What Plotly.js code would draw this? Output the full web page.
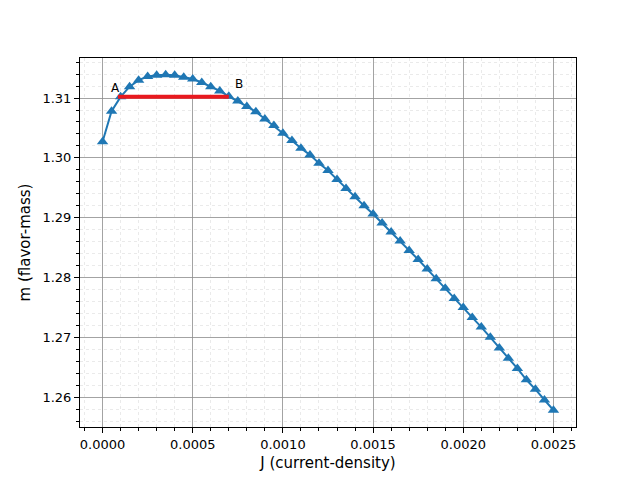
<!DOCTYPE html>
<html>
<head>
<meta charset="utf-8">
<script src="https://cdn.plot.ly/plotly-3.0.1.min.js"></script>
<style>html,body{margin:0;padding:0;background:#fff;}#chart{width:640px;height:480px;}</style>
</head>
<body>
<div id="chart"></div>
<script>
// current density J
const J = [0, 0.00005, 0.0001, 0.00015, 0.0002, 0.00025, 0.0003, 0.00035, 0.0004, 0.00045,
  0.0005, 0.00055, 0.0006, 0.00065, 0.0007, 0.00075, 0.0008, 0.00085, 0.0009, 0.00095,
  0.001, 0.00105, 0.0011, 0.00115, 0.0012, 0.00125, 0.0013, 0.00135, 0.0014, 0.00145,
  0.0015, 0.00155, 0.0016, 0.00165, 0.0017, 0.00175, 0.0018, 0.00185, 0.0019, 0.00195,
  0.002, 0.00205, 0.0021, 0.00215, 0.0022, 0.00225, 0.0023, 0.00235, 0.0024, 0.00245, 0.0025];
// flavor mass m
const M = [1.3027, 1.3078, 1.3102, 1.3119, 1.3130, 1.3136, 1.3138, 1.3139, 1.3138, 1.3135,
  1.3132, 1.3126, 1.3119, 1.3112, 1.3103, 1.3095, 1.3086, 1.3077, 1.3065, 1.3054,
  1.3041, 1.3029, 1.3016, 1.3005, 1.2991, 1.2979, 1.2964, 1.2949, 1.2935, 1.2920,
  1.2906, 1.2891, 1.2876, 1.2861, 1.2845, 1.2830, 1.2814, 1.2798, 1.2782, 1.2765,
  1.2750, 1.2733, 1.2717, 1.2700, 1.2682, 1.2665, 1.2648, 1.2629, 1.2613, 1.2595, 1.2578];
// Maxwell-type construction segment A-B
const segJ = [0.000085, 0.0007];
const segM = [1.3102, 1.3102];
const labels = ["A", "B"];
const labelJ = [0.000036, 0.000722];
const labelM = [1.3101, 1.3109];

const traces = [
  {x: J, y: M, type: 'scatter', mode: 'lines+markers',
   line: {color: '#1f77b4', width: 2},
   marker: {symbol: 'triangle-up', size: 10, color: '#1f77b4'}},
  {x: segJ, y: segM, type: 'scatter', mode: 'lines',
   line: {color: '#e8191f', width: 4}}
];

const font = {family: 'DejaVu Sans, sans-serif', color: '#000'};
const axisBase = {
  showline: true, linecolor: '#000', linewidth: 1, mirror: true,
  ticks: 'outside', ticklen: 5, tickwidth: 1, tickcolor: '#000',
  showgrid: true, gridcolor: '#8c8c8c', gridwidth: 0.8,
  zeroline: false,
  tickfont: {family: font.family, size: 13, color: '#000'}
};

const layout = {
  width: 640, height: 480,
  paper_bgcolor: '#fff', plot_bgcolor: '#fff',
  showlegend: false,
  margin: {l: 80, r: 64, t: 58, b: 53},
  font: font,
  xaxis: Object.assign({}, axisBase, {
    range: [-0.000125, 0.002625],
    tick0: 0, dtick: 0.0005, tickformat: '.4f',
    title: {text: 'J (current-density)', font: {family: font.family, size: 15, color: '#000'}, standoff: 6},
    minor: {dtick: 0.0001, ticklen: 3, tickcolor: '#000', ticks: 'outside', showgrid: true, gridcolor: '#dcdcdc', griddash: 'dot', gridwidth: 0.6}
  }),
  yaxis: Object.assign({}, axisBase, {
    range: [1.2550, 1.3167],
    tick0: 1.26, dtick: 0.01, tickformat: '.2f',
    title: {text: 'm (flavor-mass)', font: {family: font.family, size: 15, color: '#000'}, standoff: 8},
    minor: {dtick: 0.002, ticklen: 3, tickcolor: '#000', ticks: 'outside', showgrid: true, gridcolor: '#dcdcdc', griddash: 'dot', gridwidth: 0.6}
  }),
  annotations: labels.map((t, i) => ({
    x: labelJ[i], y: labelM[i], xref: 'x', yref: 'y', text: t, showarrow: false,
    xanchor: 'left', yanchor: 'bottom', font: {family: font.family, size: 12, color: '#000'}
  }))
};

Plotly.newPlot('chart', traces, layout, {staticPlot: true, displayModeBar: false});
</script>
</body>
</html>
